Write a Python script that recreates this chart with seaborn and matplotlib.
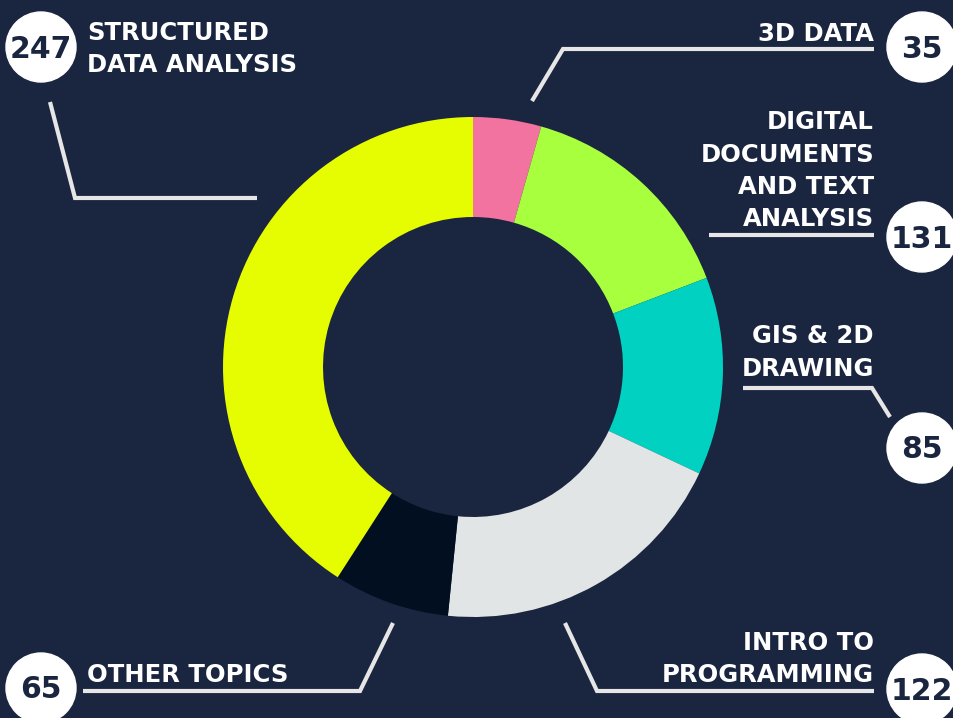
import matplotlib
matplotlib.use("Agg")
import matplotlib.pyplot as plt
import seaborn as sns

# ---- data ----
topics = ["3D DATA",
          "DIGITAL\nDOCUMENTS\nAND TEXT\nANALYSIS",
          "GIS & 2D\nDRAWING",
          "INTRO TO\nPROGRAMMING",
          "OTHER TOPICS",
          "STRUCTURED\nDATA ANALYSIS"]
counts = [35, 131, 85, 122, 65, 247]
# share of the ring each arc occupies as drawn in the reference (%)
slice_share = [4.4, 14.8, 12.8, 19.6, 7.5, 40.9]
colors = ["#F272A0", "#A8FF3E", "#00D1C0", "#E1E5E6", "#020F21", "#E6FC00"]

# ---- layout (pixel space, y down) ----
BG = "#1A2540"
LINE = "#E6E6E6"
center = (473, 367)
r_out, r_in = 250, 150

text_pos = [(874, 41, "right"), (874, 129, "right"), (874, 343, "right"),
            (874, 650, "right"), (87, 682, "left"), (87, 40, "left")]
badges = [(922, 47), (922, 237), (922, 448), (922, 689), (41, 688), (41, 47)]
leaders = [[(532, 101), (563, 49), (874, 49)],
           [(709, 235), (874, 235)],
           [(743, 388), (872, 388), (890, 417)],
           [(565, 623), (597, 691), (874, 691)],
           [(393, 623), (360, 691), (83, 691)],
           [(50, 102), (75, 198), (257, 198)]]
line_gap = 32.5

sns.set_theme(style="white", rc={"figure.facecolor": BG, "axes.facecolor": BG})
plt.rcParams["font.family"] = ["DejaVu Sans"]

fig = plt.figure(figsize=(9.54, 7.18), dpi=100)
fig.patch.set_facecolor(BG)
ax = fig.add_axes([0, 0, 1, 1])
ax.set_facecolor(BG)

palette = sns.color_palette(colors)
ax.pie(slice_share, colors=palette, center=center, radius=r_out,
       startangle=-90, counterclock=True,
       wedgeprops=dict(width=r_out - r_in, linewidth=0, edgecolor="none", antialiased=True))

ax.set_xlim(0, 954)
ax.set_ylim(718, 0)
ax.set_aspect("equal")
ax.axis("off")

for lab, n, (tx, ty, ha), (bx, by), pts in zip(topics, counts, text_pos, badges, leaders):
    xs = [p[0] for p in pts]
    ys = [p[1] for p in pts]
    ax.plot(xs, ys, color=LINE, lw=3.0, solid_capstyle="butt", solid_joinstyle="miter", zorder=3)
    for i, line in enumerate(lab.split("\n")):
        ax.text(tx, ty + i * line_gap, line, ha=ha, va="baseline", color="white",
                fontsize=17.5, fontweight="bold", zorder=4)
    ax.add_patch(plt.Circle((bx, by), 35, color="white", zorder=5))
    ax.text(bx, by + 10.5, str(n), ha="center", va="baseline", color=BG,
            fontsize=21.5, fontweight="heavy", zorder=6)

fig.savefig("out.png", dpi=100, facecolor=BG)
